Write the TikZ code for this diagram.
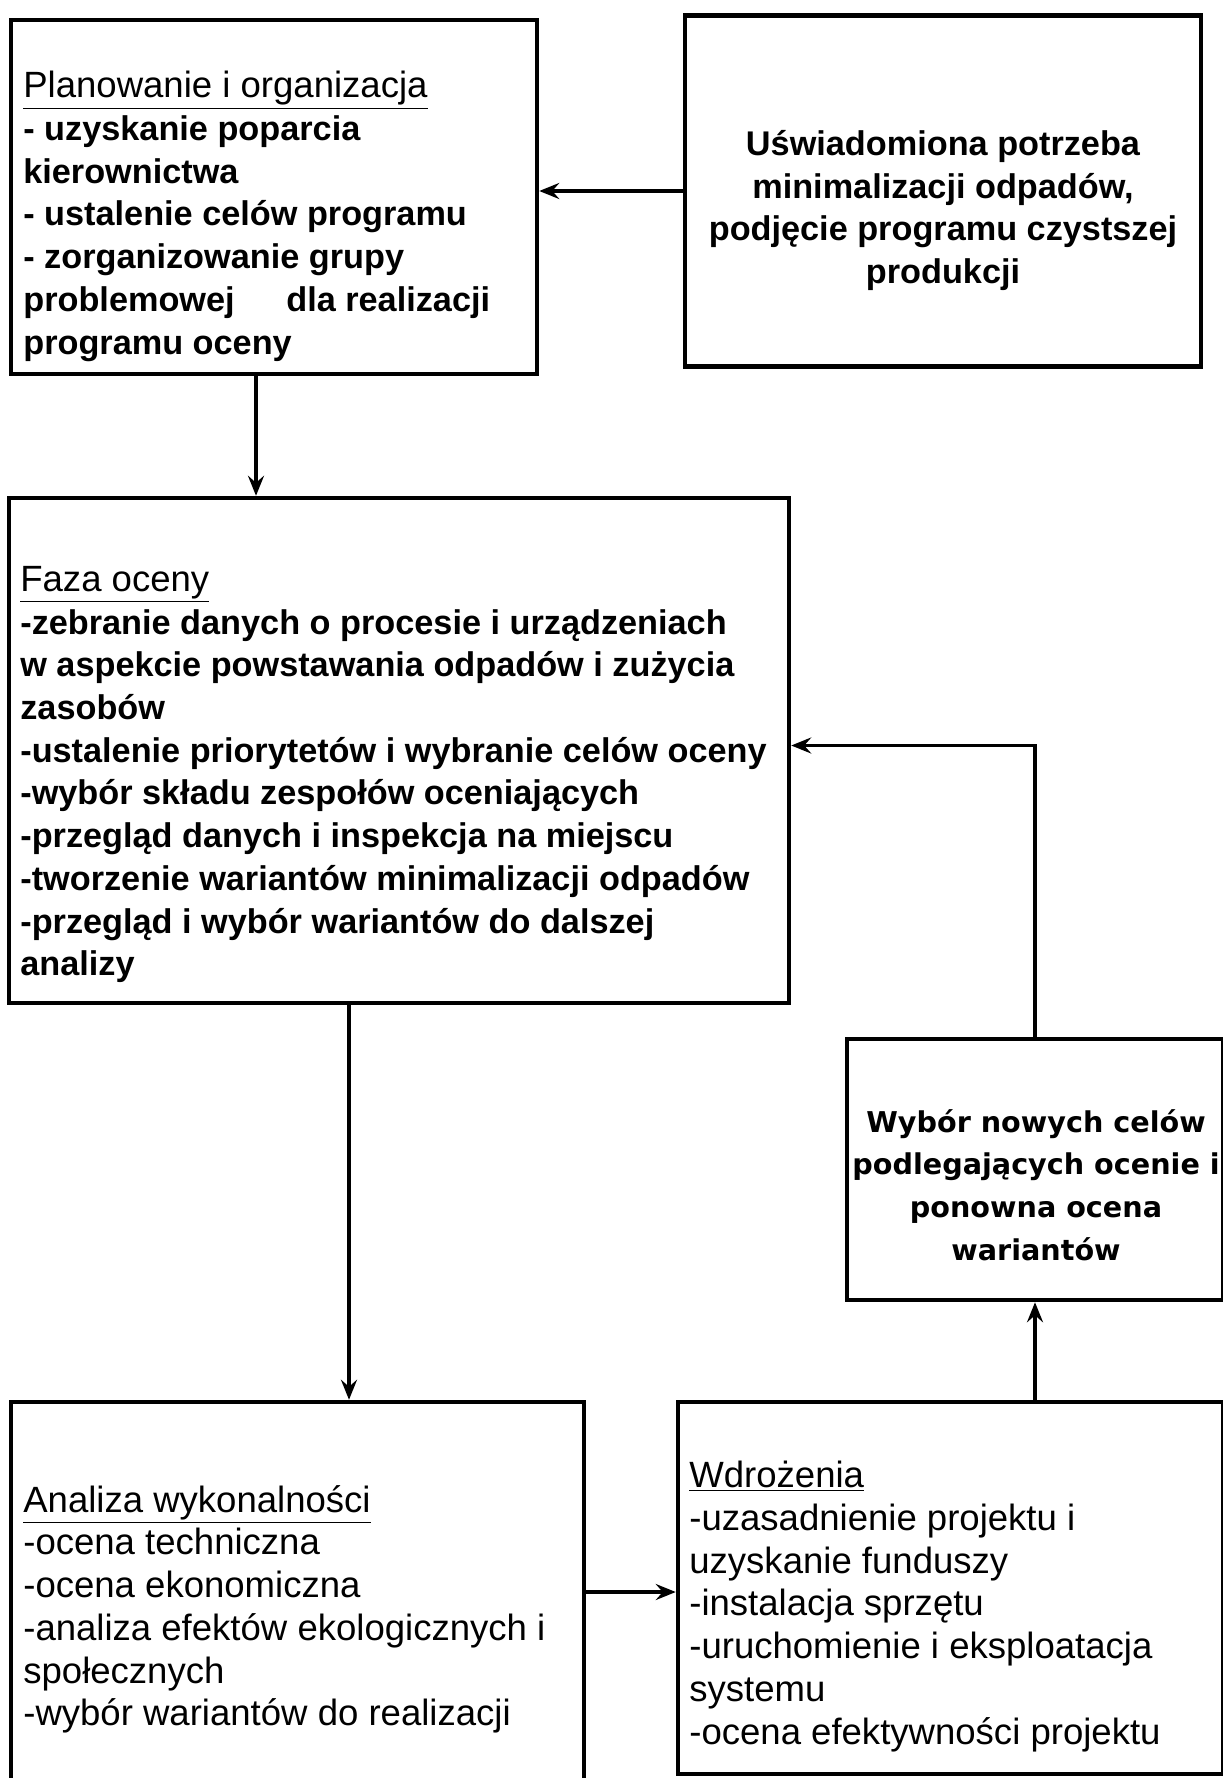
\documentclass[tikz,border=0pt]{standalone}
\usepackage{fontspec}
\setmainfont{Liberation Sans}
\newfontfamily\widefont{DejaVu Sans}
\usepackage{tikz}
\usetikzlibrary{positioning, arrows.meta}
\newcommand{\phasetitle}[1]{{\fontsize{20.8}{24.3}\selectfont\mdseries\underline{#1}}}

\begin{document}
\begin{tikzpicture}[x=0.02cm, y=-0.02cm,
    box/.style={draw, line width=2.6pt, inner sep=0pt},
    arr/.style={line width=2pt, -{Stealth[length=0.4cm, width=0.32cm, inset=0.14cm]}},
    boldtxt/.style={inner sep=0pt, align=left, anchor=north west,
        font=\fontsize{19.5}{24.3}\selectfont\bfseries},
    plaintxt/.style={inner sep=0pt, align=left, anchor=north west,
        font=\fontsize{20.8}{24.3}\selectfont}]
    \useasboundingbox (0,0) rectangle (1223,1778);

    \node[box, minimum width=10.52cm, minimum height=7.08cm] (plan) at (274,197) {};
    \node[box, minimum width=10.32cm, minimum height=7.02cm] (need) at (943,191) {};
    \node[box, minimum width=15.6cm, minimum height=10.1cm] (assess) at (399,750.5) {};
    \node[box, minimum width=7.52cm, minimum height=5.22cm] (reeval) at (1035,1169.5) {};
    \node[box, minimum width=11.46cm, minimum height=7.6cm] (feas) at (297.5,1592) {};
    \node[box, minimum width=10.9cm, minimum height=7.44cm] (impl) at (950.5,1588) {};

    \node[boldtxt] (plantext) at (23,71) {\phasetitle{Planowanie i organizacja}\\
        - uzyskanie poparcia\\
        kierownictwa\\
        - ustalenie celów programu\\
        - zorganizowanie grupy\\
        problemowej\hspace{24pt} dla realizacji\\
        programu oceny};

    \node[boldtxt, align=center, anchor=north] (needtext) at (943,130) {Uświadomiona potrzeba\\
        minimalizacji odpadów,\\
        podjęcie programu czystszej\\
        produkcji};

    \node[boldtxt] (assesstext) at (20,566) {\phasetitle{Faza oceny}\\
        -zebranie danych o procesie i urządzeniach\\
        w aspekcie powstawania odpadów i zużycia\\
        zasobów\\
        -ustalenie priorytetów i wybranie celów oceny\\
        -wybór składu zespołów oceniających\\
        -przegląd danych i inspekcja na miejscu\\
        -tworzenie wariantów minimalizacji odpadów\\
        -przegląd i wybór wariantów do dalszej\\
        analizy};

    \node[inner sep=0pt, align=center, anchor=north,
        font=\widefont\fontsize{16.3}{24.3}\selectfont\bfseries] (reevaltext) at (1036,1109)
        {Wybór nowych celów\\
        podlegających ocenie i\\
        ponowna ocena\\
        wariantów};

    \node[plaintxt] (feastext) at (23,1485) {\phasetitle{Analiza wykonalności}\\
        -ocena techniczna\\
        -ocena ekonomiczna\\
        -analiza efektów ekologicznych i\\
        społecznych\\
        -wybór wariantów do realizacji};

    \node[plaintxt] (impltext) at (689,1461) {\phasetitle{Wdrożenia}\\
        -uzasadnienie projektu i\\
        uzyskanie funduszy\\
        -instalacja sprzętu\\
        -uruchomienie i eksploatacja\\
        systemu\\
        -ocena efektywności projektu};

    \draw[arr] (need.west) -- (need.west -| plan.east);
    \draw[arr] ([xshift=-0.36cm]plan.south) -- ([xshift=-0.36cm]plan.south |- assess.north);
    \draw[arr] ([xshift=-1cm]assess.south) -- ([xshift=-1cm]assess.south |- feas.north);
    \draw[arr] (feas.east) -- (feas.east -| impl.west);
    \draw[arr] (impl.north -| reeval.south) -- (reeval.south);
    \draw[arr] (reeval.north) |- ([yshift=0.1cm]assess.east);
\end{tikzpicture}
\end{document}
